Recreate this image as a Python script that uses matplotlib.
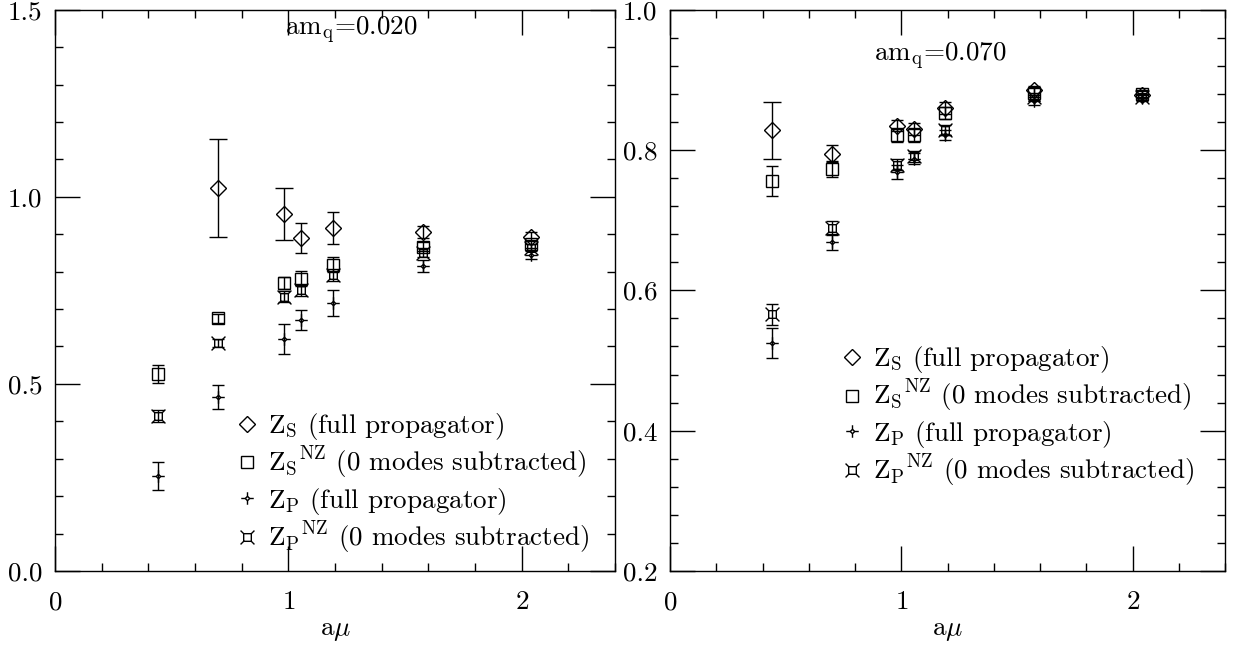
import numpy as np
import matplotlib
matplotlib.use("Agg")
import matplotlib.pyplot as plt
from matplotlib.path import Path
from matplotlib.lines import Line2D

plt.rcParams['font.family'] = 'cmr10'
plt.rcParams['mathtext.fontset'] = 'cm'
plt.rcParams['axes.formatter.use_mathtext'] = True
plt.rcParams['font.size'] = 19.5

amu = [0.44, 0.70, 0.98, 1.055, 1.19, 1.575, 2.04]

# am_q = 0.020
zs_020 = [np.nan, 1.024, 0.955, 0.890, 0.917, 0.906, 0.893]
zs_020_err = [np.nan, 0.13, 0.07, 0.04, 0.042, 0.015, 0.012]
zsnz_020 = [0.527, 0.676, 0.770, 0.781, 0.818, 0.866, 0.874]
zsnz_020_err = [0.024, 0.012, 0.015, 0.020, 0.020, 0.012, 0.010]
zp_020 = [0.254, 0.465, 0.620, 0.671, 0.716, 0.815, 0.845]
zp_020_err = [0.037, 0.033, 0.039, 0.027, 0.035, 0.015, 0.012]
zpnz_020 = [0.414, 0.609, 0.733, 0.751, 0.791, 0.850, 0.864]
zpnz_020_err = [0.015, 0.010, 0.015, 0.015, 0.015, 0.012, 0.010]

# am_q = 0.070
zs_070 = [0.828, 0.795, 0.835, 0.830, 0.860, 0.885, 0.879]
zs_070_err = [0.040, 0.012, 0.008, 0.008, 0.008, 0.006, 0.005]
zsnz_070 = [0.756, 0.773, 0.822, 0.822, 0.853, 0.882, 0.880]
zsnz_070_err = [0.021, 0.012, 0.010, 0.010, 0.008, 0.006, 0.005]
zp_070 = [0.525, 0.669, 0.769, 0.788, 0.822, 0.870, 0.874]
zp_070_err = [0.022, 0.012, 0.010, 0.008, 0.007, 0.005, 0.004]
zpnz_070 = [0.566, 0.689, 0.779, 0.791, 0.829, 0.876, 0.876]
zpnz_070_err = [0.015, 0.010, 0.008, 0.008, 0.007, 0.005, 0.004]

labels = [r'$\mathrm{Z_S}$ (full propagator)',
          r'$\mathrm{{Z_S}^{NZ}}$ (0 modes subtracted)',
          r'$\mathrm{Z_P}$ (full propagator)',
          r'$\mathrm{{Z_P}^{NZ}}$ (0 modes subtracted)']

# star with a small diamond in the middle
r = 0.35
star = Path([(0, r), (r, 0), (0, -r), (-r, 0), (0, r),
             (0, r), (0, 1), (r, 0), (1, 0), (0, -r), (0, -1), (-r, 0), (-1, 0)],
            [Path.MOVETO, Path.LINETO, Path.LINETO, Path.LINETO, Path.LINETO,
             Path.MOVETO, Path.LINETO, Path.MOVETO, Path.LINETO,
             Path.MOVETO, Path.LINETO, Path.MOVETO, Path.LINETO])
# square with spikes out of the corners
s = 0.55
box = Path([(-s, -s), (s, -s), (s, s), (-s, s), (-s, -s),
            (s, s), (1, 1), (-s, s), (-1, 1), (s, -s), (1, -1), (-s, -s), (-1, -1)],
           [Path.MOVETO, Path.LINETO, Path.LINETO, Path.LINETO, Path.LINETO,
            Path.MOVETO, Path.LINETO, Path.MOVETO, Path.LINETO,
            Path.MOVETO, Path.LINETO, Path.MOVETO, Path.LINETO])

styles = [dict(marker='D', ms=8.5), dict(marker='s', ms=8),
          dict(marker=star, ms=9), dict(marker=box, ms=10)]

fig = plt.figure(figsize=(12.42, 6.54), dpi=100)
ax1 = fig.add_axes([0.0443, 0.127, 0.451, 0.858])
ax2 = fig.add_axes([0.5395, 0.127, 0.447, 0.858])


def draw(ax, series, ylim, label, label_pos, leg_anchor):
    span = ylim[1] - ylim[0]
    for (y, e), st in zip(series, styles):
        for xi, yi, ei in zip(amu, y, e):
            if np.isnan(yi):
                continue
            cap = 6.8 if ei / span > 0.04 else 4.3
            ax.errorbar(xi, yi, yerr=ei, fmt='none', ecolor='black',
                        elinewidth=1.0, capsize=cap, capthick=1.0)
        ax.plot(amu, y, linestyle='none', color='black', mfc='none',
                mew=1.0, **st)
    ax.set_xlim(0, 2.4)
    ax.set_ylim(*ylim)
    ax.set_xticks([0, 1, 2])
    ax.set_xticks(np.arange(0, 2.41, 0.2), minor=True)
    ax.tick_params(which='both', direction='in', top=True, right=True, width=1.0)
    ax.tick_params(which='major', length=18)
    ax.tick_params(which='minor', length=6)
    ax.tick_params(axis='x', which='major', pad=14)
    ax.tick_params(axis='y', which='major', pad=9)
    for sp in ax.spines.values():
        sp.set_linewidth(1.0)
    ax.set_xlabel(r'a$\mu$', labelpad=4)
    ax.text(label_pos[0], label_pos[1], label, ha='center', va='center')
    handles = [Line2D([], [], linestyle='none', color='black', mfc='none',
                      mew=1.0, **st) for st in styles]
    ax.legend(handles, labels, loc='upper left', bbox_to_anchor=leg_anchor,
              frameon=False, handlelength=0.7, handletextpad=0.45,
              labelspacing=0.12, borderpad=0, borderaxespad=0)


draw(ax1, [(zs_020, zs_020_err), (zsnz_020, zsnz_020_err),
           (zp_020, zp_020_err), (zpnz_020, zpnz_020_err)],
     (0, 1.5), r'$\mathrm{am_q}$=0.020', (1.27, 1.445), (0.325, 0.285))
ax1.set_yticks([0, 0.5, 1.0, 1.5])
ax1.set_yticks(np.arange(0, 1.51, 0.1), minor=True)
ax1.set_yticklabels(['0.0', '0.5', '1.0', '1.5'])

draw(ax2, [(zs_070, zs_070_err), (zsnz_070, zsnz_070_err),
           (zp_070, zp_070_err), (zpnz_070, zpnz_070_err)],
     (0.2, 1.0), r'$\mathrm{am_q}$=0.070', (1.17, 0.933), (0.31, 0.404))
ax2.set_yticks([0.2, 0.4, 0.6, 0.8, 1.0])
ax2.set_yticks(np.arange(0.2, 1.01, 0.04), minor=True)
ax2.set_yticklabels(['0.2', '0.4', '0.6', '0.8', '1.0'])

fig.savefig('out.png', dpi=100)
